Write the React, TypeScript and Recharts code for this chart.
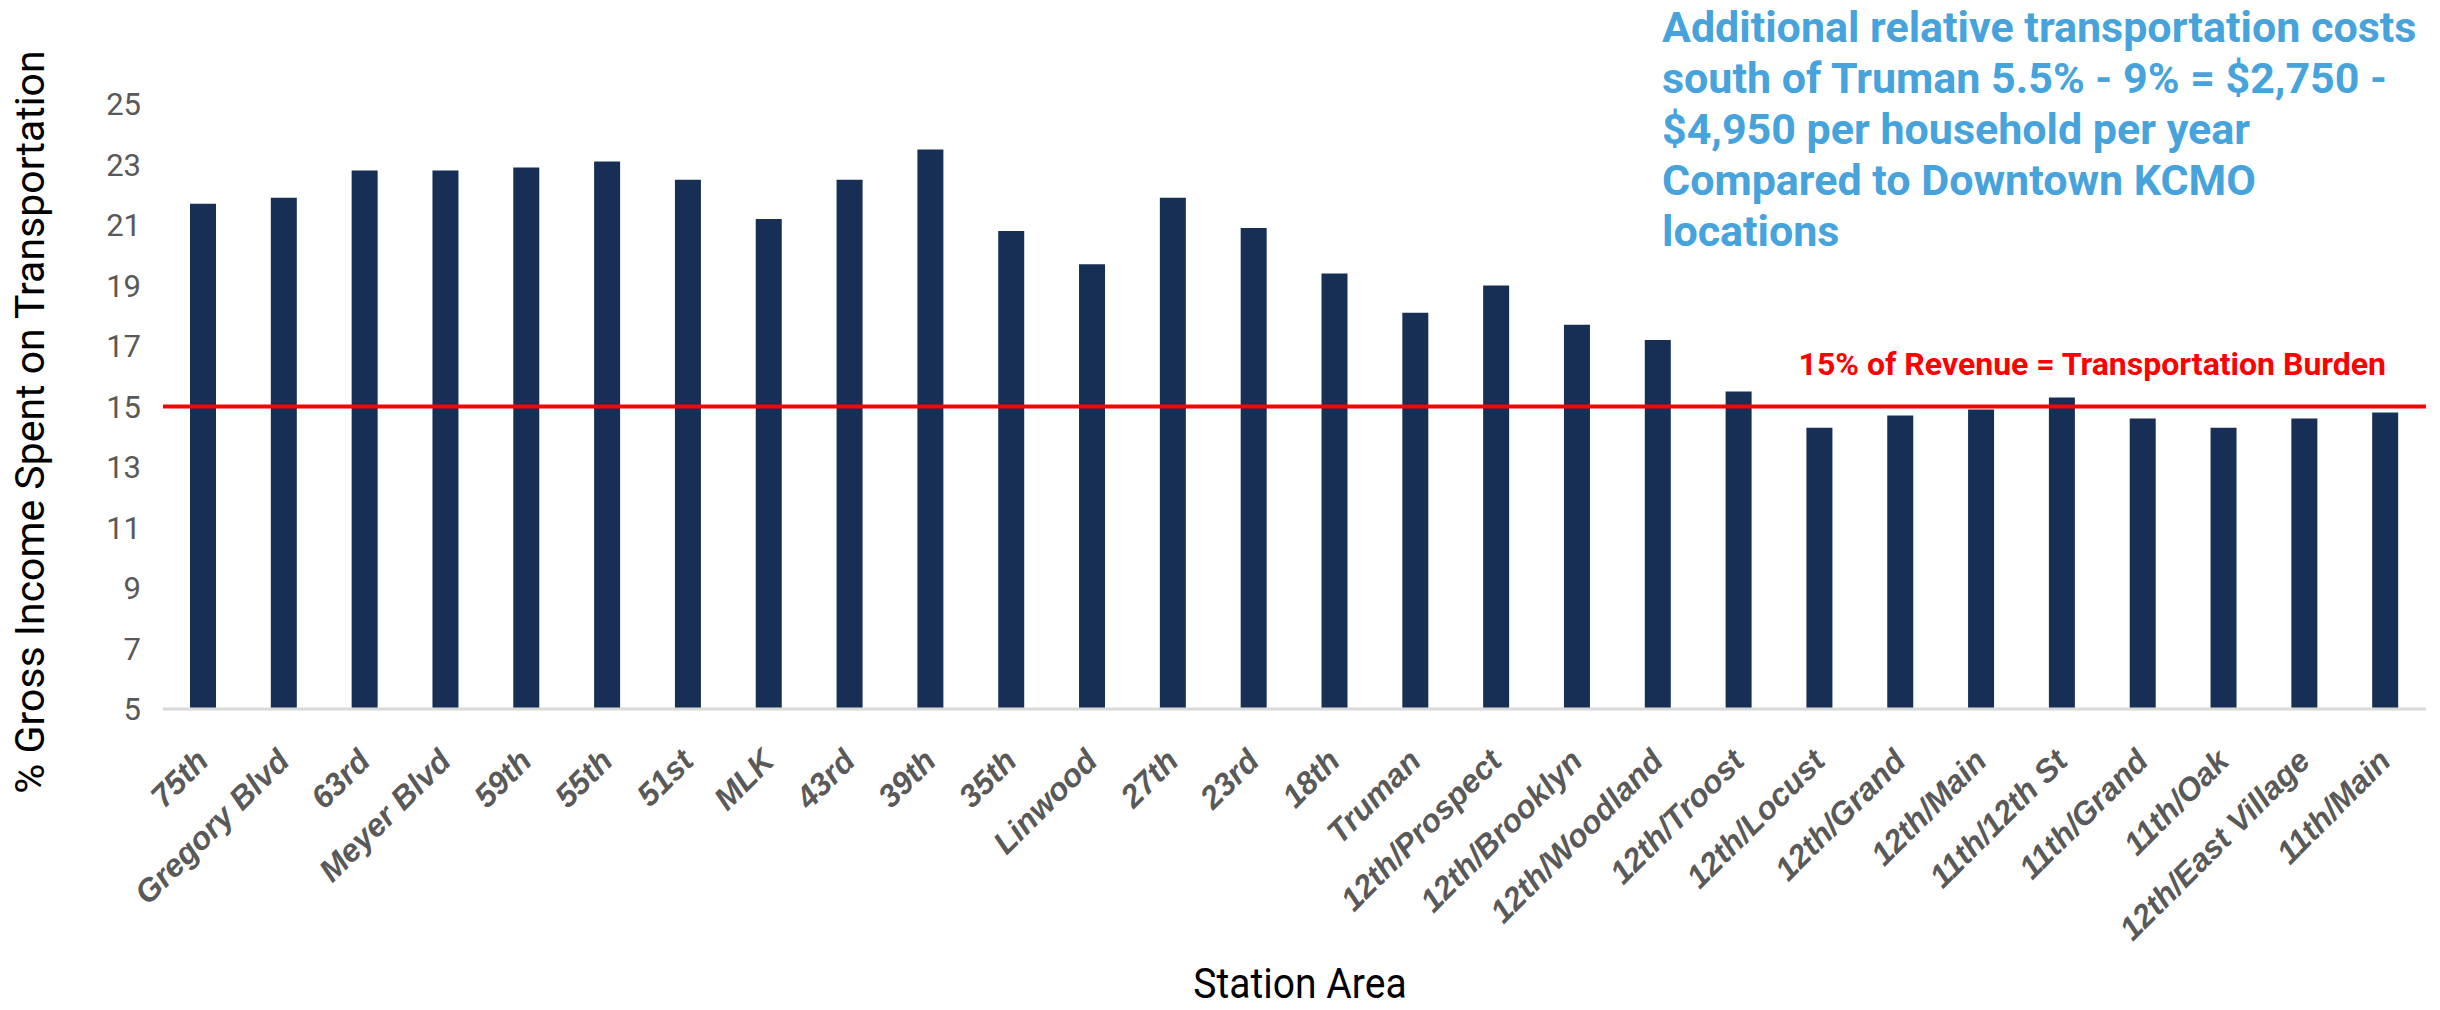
import { BarChart, Bar, XAxis, YAxis, ReferenceLine } from "recharts";

const stations = [
  "75th", "Gregory Blvd", "63rd", "Meyer Blvd", "59th", "55th", "51st", "MLK", "43rd", "39th",
  "35th", "Linwood", "27th", "23rd", "18th", "Truman", "12th/Prospect", "12th/Brooklyn",
  "12th/Woodland", "12th/Troost", "12th/Locust", "12th/Grand", "12th/Main", "11th/12th St",
  "11th/Grand", "11th/Oak", "12th/East Village", "11th/Main",
];

const transportShare = [
  21.7, 21.9, 22.8, 22.8, 22.9, 23.1, 22.5, 21.2, 22.5, 23.5,
  20.8, 19.7, 21.9, 20.9, 19.4, 18.1, 19.0, 17.7,
  17.2, 15.5, 14.3, 14.7, 14.9, 15.3,
  14.6, 14.3, 14.6, 14.8,
];

const yTicks = [5, 7, 9, 11, 13, 15, 17, 19, 21, 23, 25];

const burdenLine = 15;

const noteLines = [
  "Additional relative transportation costs",
  "south of Truman 5.5% - 9% = $2,750 -",
  "$4,950 per household per year",
  "Compared to Downtown KCMO",
  "locations",
];

const data = stations.map((name, i) => ({ name, value: transportShare[i] }));

const StationTick = (props: any) => {
  const cx = Number(props.x);
  return (
    <g transform={`translate(${cx + 7}, 763)`}>
      <text
        x={0}
        y={0}
        transform="rotate(-45)"
        textAnchor="end"
        fontFamily="'Liberation Sans', Arial, sans-serif"
        fontWeight="bold"
        fontStyle="italic"
        fontSize={32}
        fill="#595959"
      >
        {props.payload.value}
      </text>
    </g>
  );
};

const YTitle = () => (
  <g transform="translate(44, 422) rotate(-90)">
    <text x={0} y={0} textAnchor="middle" fontFamily="Roboto" fontSize={41} fill="#000">
      % Gross Income Spent on Transportation
    </text>
  </g>
);

const XTitle = () => (
  <g transform="translate(1300, 998) scale(0.93, 1)">
    <text x={0} y={0} textAnchor="middle" fontFamily="Roboto" fontSize={42} fill="#000">
      Station Area
    </text>
  </g>
);

const BurdenLabel = (props: any) => {
  const { viewBox } = props;
  return (
    <text
      x={viewBox.x + viewBox.width - 40}
      y={viewBox.y - 32}
      textAnchor="end"
      fontFamily="Roboto"
      fontWeight="bold"
      fontSize={32}
      fill="#FF0000"
    >
      15% of Revenue = Transportation Burden
    </text>
  );
};

export default function App() {
  return (
    <div style={{ position: "absolute", left: 0, top: 0, width: 2440, height: 1010, background: "#fff" }}>
      <BarChart
        width={2440}
        height={1010}
        data={data}
        margin={{ top: 104, right: 14, bottom: 0, left: 0 }}
      >
        <XAxis
          dataKey="name"
          interval={0}
          height={301}
          tickLine={false}
          axisLine={{ stroke: "#D9D9D9", strokeWidth: 3 }}
          tick={(p: any) => <StationTick {...p} />}
          label={{ content: () => <XTitle /> }}
        />
        <YAxis
          type="number"
          domain={[5, 25]}
          ticks={yTicks}
          width={163}
          axisLine={false}
          tickLine={false}
          tickSize={8}
          tickMargin={14}
          tick={{ fill: "#595959", fontSize: 31, fontFamily: "Roboto" }}
          label={{ content: () => <YTitle /> }}
        />
        <Bar dataKey="value" fill="#172F55" barSize={26} isAnimationActive={false} />
        <ReferenceLine
          y={burdenLine}
          stroke="#FF0000"
          strokeWidth={4}
          label={{ content: (p: any) => <BurdenLabel {...p} /> }}
        />
      </BarChart>
      <svg
        width={800}
        height={260}
        style={{ position: "absolute", left: 1640, top: 0 }}
      >
        {noteLines.map((line, i) => (
          <text
            key={line}
            x={22}
            y={42 + i * 51}
            fontFamily="Roboto"
            fontWeight="bold"
            fontSize={43}
            fill="#47A3DB"
          >
            {line}
          </text>
        ))}
      </svg>
    </div>
  );
}
